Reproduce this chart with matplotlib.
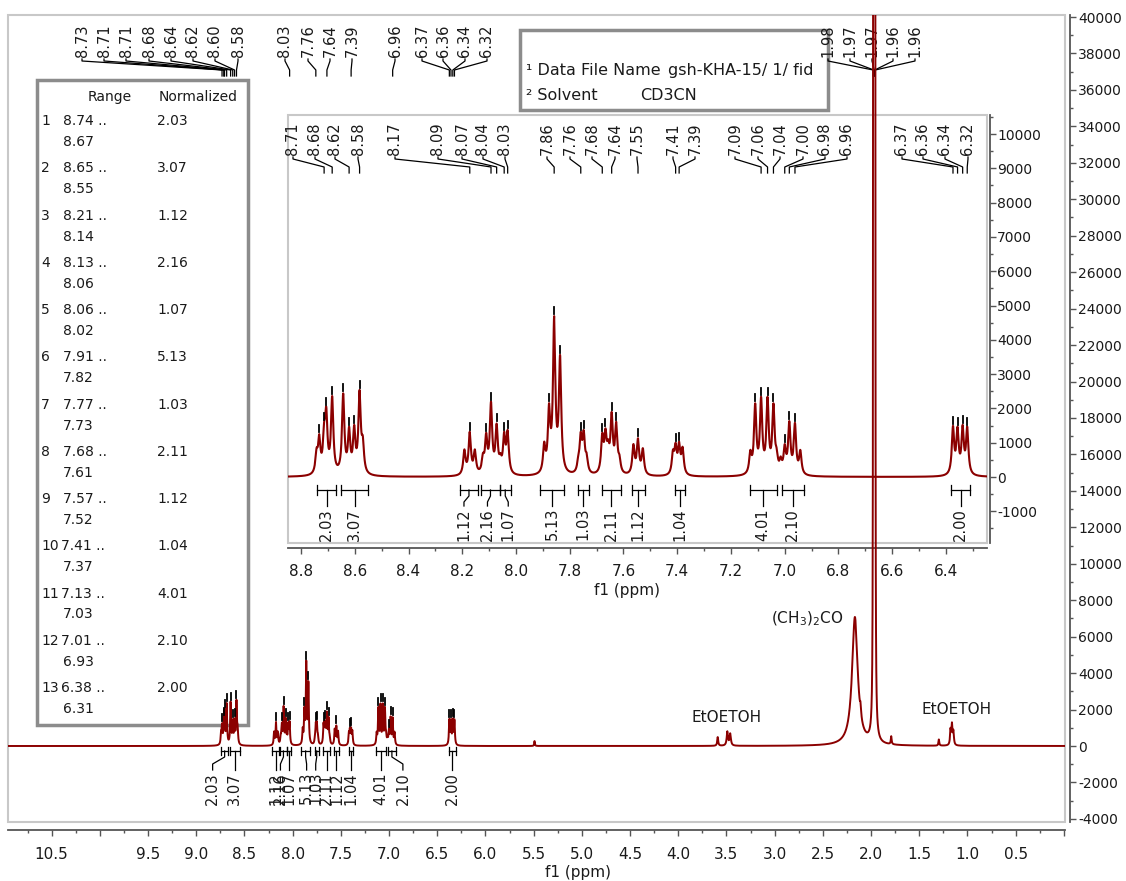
import numpy as np
import matplotlib
matplotlib.use("Agg")
import matplotlib.pyplot as plt
from matplotlib.patches import Rectangle
from matplotlib.ticker import MultipleLocator, FuncFormatter

plt.rcParams['font.family'] = ['DejaVu Sans']
plt.rcParams['axes.unicode_minus'] = False

# ---- peak list (ppm, intensity) ----
# picked peaks (they get a black marker above the top)
PICK_PPM = [8.732, 8.714, 8.706, 8.684, 8.643, 8.621, 8.602, 8.582,
            8.172, 8.111, 8.093, 8.072, 8.044, 8.031,
            7.877, 7.858, 7.836, 7.759, 7.748,
            7.679, 7.667, 7.644, 7.627, 7.546, 7.406, 7.393,
            7.110, 7.088, 7.064, 7.042, 7.000, 6.983, 6.962,
            6.374, 6.357, 6.338, 6.321]
PICK_HEIGHT = [1250, 1600, 2050, 2360, 2440, 1470, 1520, 2540,
               1320, 1290, 2200, 1560, 1320, 1370,
               2150, 4690, 3560, 1320, 1370,
               1290, 1420, 1900, 1610, 1130, 1000, 1030,
               2150, 2340, 2340, 2150, 960, 1630, 1580,
               1490, 1470, 1520, 1470]
PICK_HWHM = [0.0052] * 37

# shoulders, solvent and impurity lines (no marker)
OTHER_PPM = [8.742, 8.570, 8.192, 8.153, 8.123, 8.058, 7.895, 7.768, 7.737,
             7.657, 7.615, 7.563, 7.528, 7.416, 7.380, 7.128, 7.030, 7.015, 6.942,
             5.49, 3.59, 3.49, 3.46, 2.167, 2.108,
             1.977, 1.971, 1.966, 1.961, 1.956,
             1.79, 1.296, 1.175, 1.160, 1.145]
OTHER_HEIGHT = [850, 1200, 805, 805, 700, 700, 1030, 650, 700,
                1100, 650, 960, 840, 800, 880, 790, 840, 600, 790,
                270, 490, 810, 700, 7080, 2430,
                60000, 90000, 120000, 90000, 60000,
                540, 360, 1000, 1300, 900]
OTHER_HWHM = [0.0052] * 19 + [0.004, 0.006, 0.008, 0.008, 0.035, 0.006,
                              0.002, 0.002, 0.002, 0.002, 0.002,
                              0.005, 0.005, 0.006, 0.006, 0.006]

# integrals
INT_START = [8.74, 8.65, 8.21, 8.13, 8.06, 7.91, 7.77, 7.68, 7.57, 7.41, 7.13, 7.01, 6.38]
INT_END = [8.67, 8.55, 8.14, 8.06, 8.02, 7.82, 7.73, 7.61, 7.52, 7.37, 7.03, 6.93, 6.31]
INT_VALUE = [2.03, 3.07, 1.12, 2.16, 1.07, 5.13, 1.03, 2.11, 1.12, 1.04, 4.01, 2.10, 2.00]

# peak labels shown on the full spectrum and on the zoomed inset
MAIN_LABELS = [8.732, 8.714, 8.706, 8.684, 8.643, 8.621, 8.602, 8.582,
               8.031, 7.759, 7.644, 7.393, 6.962,
               6.374, 6.357, 6.338, 6.321,
               1.977, 1.971, 1.966, 1.961, 1.956]
INSET_LABELS = [8.714, 8.684, 8.621, 8.582,
                8.172, 8.093, 8.072, 8.044, 8.031,
                7.858, 7.759, 7.679, 7.644, 7.546,
                7.406, 7.393,
                7.088, 7.064, 7.042, 7.000, 6.983, 6.962,
                6.374, 6.357, 6.338, 6.321]

# ---- layout (pixel positions of the label columns) ----
MAIN_LABEL_X = [82, 104, 126, 149, 171, 193, 215, 238,
                285, 308, 330, 352, 395,
                422, 443, 465, 487,
                828, 850, 872, 893, 915]
INSET_LABEL_X = [293, 315, 335, 358,
                 395, 438, 462, 483, 505,
                 547, 570, 592, 615, 637,
                 673, 695,
                 735, 758, 780, 803, 825, 847,
                 902, 923, 945, 968]
MAIN_INT_SHIFT = [-12, 0, 0, -3, 0, 1, -1, 0, 0, 0, 0, 11, 0]
INSET_INT_SHIFT = [0, 0, -5, -3, 3, 0, 0, 0, 0, 0, 0, 0, 0]

RED = '#8b0000'
TXT = '#1a1a1a'
AXC = '#555555'


# pixel <-> data helpers for the two axes
def mx(px):
    return 2.0 - (px - 871.0) / 96.4


def my(py):
    return (746.0 - py) * 2000.0 / 36.45


def mpx(ppm):
    return 871.0 - (ppm - 2.0) * 96.4


def ix(px):
    return 8.8 - (px - 301.0) / 268.75


def iy(py):
    return (477.0 - py) * 1000.0 / 34.3


def ipx(ppm):
    return 301.0 + (8.8 - ppm) * 268.75


def fa(px, py):
    return ((px - 8.0) / 1057.0, (822.0 - py) / 807.0)


# ---- build the spectrum from the line list (Lorentzian lines) ----
pos = np.array(PICK_PPM + OTHER_PPM)
hgt = np.array(PICK_HEIGHT + OTHER_HEIGHT, dtype=float)
wid = np.array(PICK_HWHM + OTHER_HWHM)
M = 1.0 / (1.0 + ((pos[:, None] - pos[None, :]) / wid[None, :]) ** 2)
amp = np.clip(np.linalg.solve(M, hgt), 0, None)

x = np.linspace(-0.1, 11.0, 111001)
spec = np.zeros_like(x)
for p, a, g in zip(pos, amp, wid):
    spec += a / (1.0 + ((x - p) / g) ** 2)


def spec_at(ppm):
    return float(np.sum(amp / (1.0 + ((ppm - pos) / wid) ** 2)))


fig = plt.figure(figsize=(11.26, 8.81), dpi=100)
ax = fig.add_axes([8 / 1126, 1 - 822 / 881, 1057 / 1126, 807 / 881])
ax.set_xlim(mx(8), mx(1065))
ax.set_ylim(my(822), my(15))

# main axes styling
for s in ['top', 'left']:
    ax.spines[s].set_visible(False)
ax.spines['bottom'].set_position(('outward', 8 * 0.72))
ax.spines['right'].set_position(('outward', 5 * 0.72))
for s in ['bottom', 'right']:
    ax.spines[s].set_color(AXC)
    ax.spines[s].set_linewidth(1.3)
ax.yaxis.tick_right()
ax.xaxis.set_major_locator(MultipleLocator(0.5))
ax.xaxis.set_minor_locator(MultipleLocator(0.25))
ax.xaxis.set_major_formatter(FuncFormatter(
    lambda v, _: '' if abs(v - 10.0) < 1e-6 or v < 0.4 or v > 10.6 else f'{v:.1f}'))
ax.yaxis.set_major_locator(MultipleLocator(2000))
ax.yaxis.set_minor_locator(MultipleLocator(1000))
ax.yaxis.set_major_formatter(FuncFormatter(lambda v, _: f'{v:.0f}'))
ax.tick_params(axis='x', which='major', direction='out', length=4.3, width=1,
               color=AXC, labelcolor=TXT, labelsize=11, pad=8)
ax.tick_params(axis='x', which='minor', direction='out', length=2.4, width=1, color=AXC)
ax.tick_params(axis='y', which='major', direction='out', length=4.3, width=1,
               color=AXC, labelcolor=TXT, labelsize=10, pad=1.5)
ax.tick_params(axis='y', which='minor', direction='out', length=2.4, width=1, color=AXC)
ax.add_patch(Rectangle((0, 0), 1, 1, transform=ax.transAxes, fill=False,
                       ec='#c8c8c8', lw=1.5, clip_on=False, zorder=0.5))
ax.text(*fa(578, 872), 'f1 (ppm)', transform=ax.transAxes, ha='center',
        va='center', fontsize=11, color=TXT)

# spectrum on top of the inset (the solvent line crosses it)
ax.plot(x, spec, color=RED, lw=1.4, zorder=6)
for p in PICK_PPM:
    v = spec_at(p)
    ax.plot([p, p], [v + 2 * 54.87, v + 9 * 54.87], color='black', lw=1.3, zorder=6)

# top peak labels
for p, lx in zip(MAIN_LABELS, MAIN_LABEL_X):
    ax.plot([mx(lx), mx(lx), p, p], [my(59), my(61), my(70), my(76)],
            color='black', lw=0.9, zorder=3)
    ax.text(mx(lx), my(57), f'{p:.2f}', rotation=90, ha='center', va='bottom',
            fontsize=10.5, color=TXT)

# integrals on the full spectrum
for a, b, val, sh in zip(INT_START, INT_END, INT_VALUE, MAIN_INT_SHIFT):
    c = (a + b) / 2
    lx = mx(mpx(c) + sh)
    ax.plot([a, b], [my(751), my(751)], color='black', lw=0.9, zorder=4)
    ax.plot([a, a], [my(747), my(755)], color='black', lw=0.9, zorder=4)
    ax.plot([b, b], [my(747), my(755)], color='black', lw=0.9, zorder=4)
    ax.plot([c, c, lx, lx], [my(751), my(757), my(764), my(770)],
            color='black', lw=0.9, zorder=4)
    ax.text(lx, my(772), f'{val:.2f}', rotation=90, ha='center', va='top',
            fontsize=10.5, color=TXT)

# solvent annotations
ax.text(mx(807), my(619), '(CH$_3$)$_2$CO', ha='center', va='center', fontsize=11, color=TXT)
ax.text(mx(727), my(718), 'EtOETOH', ha='center', va='center', fontsize=11, color=TXT)
ax.text(mx(957), my(709), 'EtOETOH', ha='center', va='center', fontsize=11, color=TXT)

# info box
x0, y0 = fa(520, 110)
x1, y1 = fa(828, 30)
ax.add_patch(Rectangle((x0, y0), x1 - x0, y1 - y0, transform=ax.transAxes,
                       fc='white', ec='#8c8c8c', lw=2.5, zorder=1))
ax.text(*fa(526, 70), '¹ Data File Name', transform=ax.transAxes, va='center',
        fontsize=11.5, color=TXT, zorder=2)
ax.text(*fa(668, 70), 'gsh-KHA-15/ 1/ fid', transform=ax.transAxes, va='center',
        fontsize=11.5, color=TXT, zorder=2)
ax.text(*fa(526, 95), '² Solvent', transform=ax.transAxes, va='center',
        fontsize=11.5, color=TXT, zorder=2)
ax.text(*fa(640, 95), 'CD3CN', transform=ax.transAxes, va='center',
        fontsize=11.5, color=TXT, zorder=2)

# integral table
x0, y0 = fa(37, 725)
x1, y1 = fa(248, 80)
ax.add_patch(Rectangle((x0, y0), x1 - x0, y1 - y0, transform=ax.transAxes,
                       fill=False, ec='#8c8c8c', lw=2.5, zorder=1))
ax.text(*fa(110, 97), 'Range', transform=ax.transAxes, ha='center', va='center',
        fontsize=10, color=TXT)
ax.text(*fa(159, 97), 'Normalized', transform=ax.transAxes, ha='left', va='center',
        fontsize=10, color=TXT)
for k, (a, b, val) in enumerate(zip(INT_START, INT_END, INT_VALUE)):
    yy = 121 + k * 47.25
    ax.text(*fa(41, yy), str(k + 1), transform=ax.transAxes, va='center',
            fontsize=10, color=TXT)
    ax.text(*fa(63 if k < 9 else 61, yy), f'{a:.2f} ..', transform=ax.transAxes,
            va='center', fontsize=10, color=TXT)
    ax.text(*fa(63, yy + 21), f'{b:.2f}', transform=ax.transAxes, va='center',
            fontsize=10, color=TXT)
    ax.text(*fa(157, yy), f'{val:.2f}', transform=ax.transAxes, va='center',
            fontsize=10, color=TXT)

# ---- inset (zoom of the aromatic region) ----
ins = ax.inset_axes([(288 - 8) / 1057, (822 - 543) / 807, 699 / 1057, 428 / 807])
ins.set_facecolor('white')
ins.set_xlim(ix(288), ix(987))
ins.set_ylim(iy(543), iy(115))
for s in ['top', 'left']:
    ins.spines[s].set_visible(False)
ins.spines['bottom'].set_position(('outward', 5 * 0.72))
ins.spines['right'].set_position(('outward', 3 * 0.72))
for s in ['bottom', 'right']:
    ins.spines[s].set_color(AXC)
    ins.spines[s].set_linewidth(1.3)
ins.yaxis.tick_right()
ins.xaxis.set_major_locator(MultipleLocator(0.2))
ins.xaxis.set_minor_locator(MultipleLocator(0.1))
ins.xaxis.set_major_formatter(FuncFormatter(lambda v, _: f'{v:.1f}'))
ins.yaxis.set_major_locator(MultipleLocator(1000))
ins.yaxis.set_minor_locator(MultipleLocator(500))
ins.yaxis.set_major_formatter(FuncFormatter(lambda v, _: f'{v:.0f}'))
ins.tick_params(axis='x', which='major', direction='out', length=4.3, width=1,
                color=AXC, labelcolor=TXT, labelsize=11, pad=7)
ins.tick_params(axis='x', which='minor', direction='out', length=2.4, width=1, color=AXC)
ins.tick_params(axis='y', which='major', direction='out', length=4.3, width=1,
                color=AXC, labelcolor=TXT, labelsize=10, pad=1)
ins.tick_params(axis='y', which='minor', direction='out', length=2.4, width=1, color=AXC)
ins.add_patch(Rectangle((0, 0), 1, 1, transform=ins.transAxes, fill=False,
                        ec='#c8c8c8', lw=1.5, clip_on=False, zorder=0.5))
ins.text((627 - 288) / 699, (543 - 590) / 428, 'f1 (ppm)', transform=ins.transAxes,
         ha='center', va='center', fontsize=11, color=TXT)

ins.plot(x, spec, color=RED, lw=1.5, zorder=3)
for p in PICK_PPM:
    v = spec_at(p)
    ins.plot([p, p], [v + 2 * 29.15, v + 9 * 29.15], color='black', lw=1.3, zorder=4)

for p, lx in zip(INSET_LABELS, INSET_LABEL_X):
    ins.plot([ix(lx), ix(lx), p, p], [iy(157), iy(159), iy(167), iy(173)],
             color='black', lw=0.9, zorder=3)
    ins.text(ix(lx), iy(155), f'{p:.2f}', rotation=90, ha='center', va='bottom',
             fontsize=10.5, color=TXT)

for a, b, val, sh in zip(INT_START, INT_END, INT_VALUE, INSET_INT_SHIFT):
    c = (a + b) / 2
    lx = ix(ipx(c) + sh)
    ins.plot([a, b], [iy(490), iy(490)], color='black', lw=0.9)
    ins.plot([a, a], [iy(485), iy(495)], color='black', lw=0.9)
    ins.plot([b, b], [iy(485), iy(495)], color='black', lw=0.9)
    ins.plot([c, c, lx, lx], [iy(490), iy(496), iy(502), iy(506)], color='black', lw=0.9)
    ins.text(lx, iy(508), f'{val:.2f}', rotation=90, ha='center', va='top',
             fontsize=10.5, color=TXT)

fig.savefig('out.png', dpi=100)
